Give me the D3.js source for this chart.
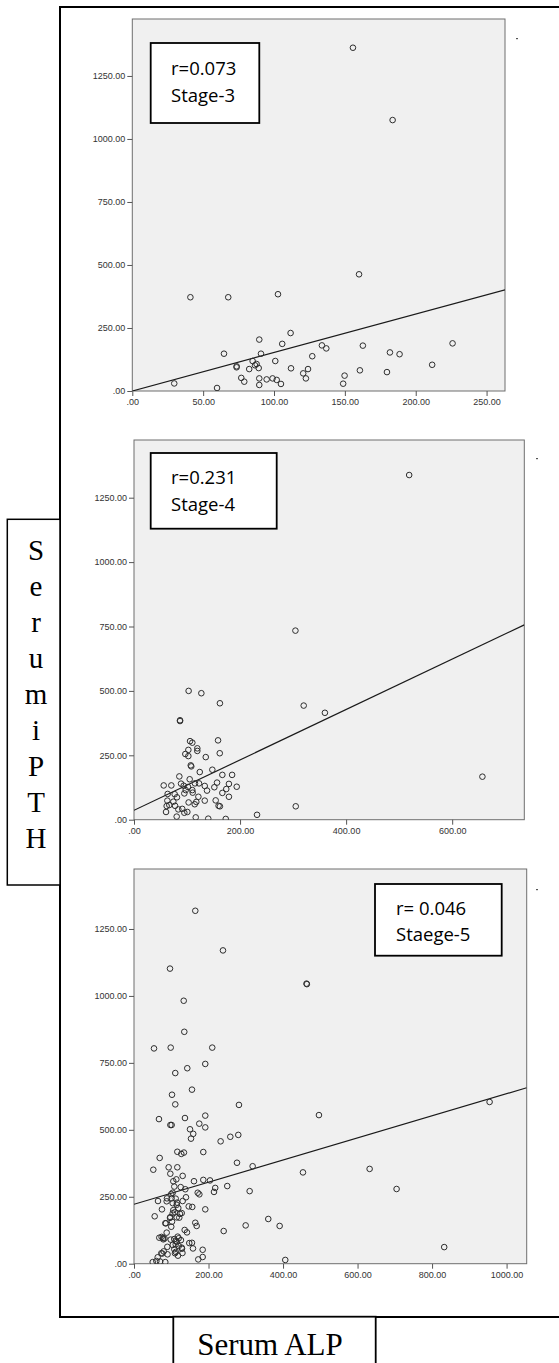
<!DOCTYPE html>
<html>
<head>
<meta charset="utf-8">
<script src="https://cdn.jsdelivr.net/npm/d3@7"></script>
<style>
	body { margin: 0; background: #fff; }
	.tick text { font-family: "Liberation Sans", Arial, sans-serif; font-size: 9px; fill: #333; }
	.tick line { stroke: #555; }
</style>
</head>
<body>
<div id="chart"></div>
<script>
/*global d3*/

// Stage 3: serum ALP vs serum iPTH
const stage3 = [
	[155.7,1362],[183.7,1075],[160,463],[41,372],[67.7,372],[102.8,384],[111.7,230],[89.6,204],
	[64.7,148],[90.8,148],[105.8,187],[133.8,181],[136.9,169],[162.7,180],[181.8,153],[188.6,146],
	[226,189],[127,138],[100.9,119],[84.9,119],[87.7,107],[86.6,102],[73.6,98],[73.6,94],[82.5,87],
	[89.2,91],[112,90],[124,87],[120.6,70],[122.5,50],[29.6,30],[76.9,52],[79,37],[89.6,50],
	[89.6,24],[94.8,46],[99,50],[101.9,44],[104.9,28],[59.8,12],[211.6,104],[149.8,61],[148.8,29],
	[160.6,82],[179.7,75]
];

// Stage 4
const stage4 = [
	[518.9,1338],[304.4,734],[103,500],[127,491],[162,452],[320,443],[360,415],[86.8,386],[86.8,383],
	[657,167],[305,52],[232,19],[105.7,305],[110,299],[158.5,308],[119.4,277],[119.4,267],[102.5,271],
	[96.8,255],[102.5,247],[161.7,258],[135.3,243],[107,211],[108,207],[124,185],[147.7,194],
	[166.6,174],[185,174],[85.5,168],[105,157],[56,133],[70.4,133],[88.7,140],[93.7,132],[115,141],
	[122.6,141],[133.4,131],[156.6,144],[179,139],[193.7,128],[101.9,127],[110,115],[97.5,115],
	[137.7,113],[151.5,126],[174,119],[63.5,100],[76.7,99],[94.9,102],[110.7,105],[121.4,89],
	[166.6,104],[179,89],[81,87],[62.9,74],[74.2,70],[103,67],[117.5,69],[133.4,74],[154,75],
	[159.5,54],[162,52],[61.6,53],[66.6,57],[77.4,54],[114.5,60],[83.6,40],[91,42],[60.4,30],
	[94.9,27],[100.6,30],[80.5,12],[116.4,9],[140,4],[173,3]
];

// Stage 5
const stage5 = [
	[164.5,1318],[238.8,1170],[96.6,1102],[463,1046],[464,1044],[133.4,982],[135,866],[53.7,804],
	[98.5,807],[210,807],[191.3,746],[143,730],[110.8,712],[155.6,650],[102,631],[110.8,595],
	[281.7,593],[496.4,555],[954.4,604],[67,540],[136.8,544],[191.3,553],[97.7,518],[101,518],
	[175.2,523],[191.3,509],[150.3,502],[159,485],[153,467],[258.5,474],[279.9,481],[232.5,457],
	[116.3,418],[134,415],[127,410],[186,417],[68.9,395],[51.8,351],[93,360],[116.3,360],[276.4,377],
	[318.4,364],[453.5,341],[632.4,354],[704.8,279],[97.5,336],[130.6,328],[113.6,315],[105.5,308],
	[161,308],[186,313],[204,311],[125.3,286],[108.2,288],[137.7,278],[171,265],[175.4,259],
	[214.7,268],[218,283],[250.3,290],[310.4,271],[100,260],[88.5,244],[111.9,243],[139.5,248],
	[64.4,234],[103.8,226],[115.4,228],[130.6,234],[146.8,214],[156.4,212],[75,203],[191.3,203],
	[118.9,208],[109.2,192],[128,189],[55.5,177],[97.5,174],[121.5,172],[84,151],[164.5,153],
	[168.2,141],[100,138],[299.7,143],[360.4,167],[390.9,141],[240.7,122],[136,126],[142.2,117],
	[87.7,116],[67.9,97],[78.6,91],[98.5,90],[117.3,101],[114.6,82],[148.4,77],[155.6,78],
	[158.3,57],[128.8,56],[108.2,54],[89.4,63],[79.7,46],[73.3,39],[110,39],[184.3,52],[184.3,25],
	[172.5,16],[63.6,24],[50.2,6],[84,6],[406,14],[832.6,62],[103.8,265],[101,244],[87.7,233],
	[114.6,220],[105.5,200],[103.8,188],[114.6,173],[96.6,171],[85.9,151],[102,157],[123.4,186],
	[78,96],[74,100],[82,94],[108,92],[112,86],[120,95],[126,88],[104,70],[112,72],[120,66],
	[128,60],[76,38],[90,35],[112,44],[118,30],[60,10],[70,8],[130,40]
];

const xMax = [263, 736, 1054];
const yMax = [1476, 1474, 1474];
const xTicks = [
	[0, 50, 100, 150, 200, 250],
	[0, 200, 400, 600],
	[0, 200, 400, 600, 800, 1000]
];
const yTicks = [0, 250, 500, 750, 1000, 1250];
const fitIntercept = [0, 36.5, 222];
const fitSlope = [1.525, 0.978, 0.4127];
const boxLines = [
	["r=0.073", "Stage-3"],
	["r=0.231", "Stage-4"],
	["r= 0.046", "Staege-5"]
];
const yLabel = "SerumiPTH";
const xLabel = "Serum ALP";

const W = 559, H = 1363;

let svg = d3.select("#chart")
	.append("svg")
	.attr("width", W)
	.attr("height", H);

// panel geometry (pixels)
let panels = [
	{ left: 132.3, right: 505, top: 19, bottom: 391,
	  box: { x: 150.7, y: 43, w: 108.6, h: 80, tx: 171, ty: [75, 102] }, dot: [516, 38] },
	{ left: 134, right: 524.3, top: 440, bottom: 819.7,
	  box: { x: 150.7, y: 453, w: 126, h: 75.7, tx: 171, ty: [484, 510.7] }, dot: [536, 458] },
	{ left: 134, right: 526.7, top: 869, bottom: 1263.7,
	  box: { x: 375, y: 884, w: 126.7, h: 71.7, tx: 396, ty: [915, 941] }, dot: [536, 889] }
];
let datasets = [stage3, stage4, stage5];

let fmt = function (v) {
	return v === 0 ? ".00" : d3.format(".2f")(v);
};

// outer frame
svg.append("rect")
	.attr("x", 60).attr("y", 7)
	.attr("width", 560).attr("height", 1310)
	.style("fill", "none")
	.style("stroke", "#000")
	.style("stroke-width", 2);

// clip for the cut-off bottom axis labels of the last panel
svg.append("clipPath").attr("id", "cutLabels")
	.append("rect").attr("x", 0).attr("y", 0).attr("width", W).attr("height", 1280);

panels.forEach(function (p, i) {
	let x = d3.scaleLinear().domain([0, xMax[i]]).range([p.left, p.right]);
	let y = d3.scaleLinear().domain([0, yMax[i]]).range([p.bottom, p.top]);

	let g = svg.append("g");

	g.append("rect")
		.attr("x", p.left).attr("y", p.top)
		.attr("width", p.right - p.left).attr("height", p.bottom - p.top)
		.style("fill", "#f0f0f0")
		.style("stroke", "#6e6e6e")
		.style("stroke-width", 1);

	let xa = g.append("g")
		.attr("transform", "translate(0," + p.bottom + ")")
		.call(d3.axisBottom(x).tickValues(xTicks[i]).tickFormat(fmt).tickSize(5).tickPadding(3));
	xa.select(".domain").remove();
	if (i === 2) xa.attr("clip-path", "url(#cutLabels)");

	g.append("g")
		.attr("transform", "translate(" + p.left + ",0)")
		.call(d3.axisLeft(y).tickValues(yTicks).tickFormat(fmt).tickSize(5).tickPadding(2))
		.select(".domain").remove();

	let clipId = "plot" + i;
	g.append("clipPath").attr("id", clipId)
		.append("rect")
		.attr("x", p.left).attr("y", p.top)
		.attr("width", p.right - p.left).attr("height", p.bottom - p.top);

	let inner = g.append("g").attr("clip-path", "url(#" + clipId + ")");

	// fit line
	let fit = [0, xMax[i]].map(function (v) {
		return [v, fitIntercept[i] + fitSlope[i] * v];
	});
	inner.append("path")
		.attr("d", d3.line().x(function (d) { return x(d[0]); }).y(function (d) { return y(d[1]); })(fit))
		.style("fill", "none")
		.style("stroke", "#1a1a1a")
		.style("stroke-width", 1.2);

	inner.selectAll("circle")
		.data(datasets[i])
		.enter()
		.append("circle")
		.attr("cx", function (d) { return x(d[0]); })
		.attr("cy", function (d) { return y(d[1]); })
		.attr("r", 2.8)
		.style("fill", "none")
		.style("stroke", "#2e2e2e")
		.style("stroke-width", 1);

	// r / stage box
	g.append("rect")
		.attr("x", p.box.x).attr("y", p.box.y)
		.attr("width", p.box.w).attr("height", p.box.h)
		.style("fill", "#fff")
		.style("stroke", "#000")
		.style("stroke-width", 1.8);

	boxLines[i].forEach(function (t, j) {
		g.append("text")
			.attr("x", p.box.tx)
			.attr("y", p.box.ty[j])
			.style("font-family", "'Open Sans', sans-serif")
			.style("font-size", "18.5px")
			.style("fill", "#000")
			.text(t);
	});

	// little stray mark at the top right
	g.append("rect")
		.attr("x", p.dot[0]).attr("y", p.dot[1])
		.attr("width", 2).attr("height", 1.2)
		.style("fill", "#555");
});

// y label box
svg.append("rect")
	.attr("x", 7.3).attr("y", 519.3)
	.attr("width", 52.7).attr("height", 365.7)
	.style("fill", "#fff")
	.style("stroke", "#000")
	.style("stroke-width", 1.5);

yLabel.split("").forEach(function (ch, i) {
	svg.append("text")
		.attr("x", 36)
		.attr("y", 560 + i * 36)
		.attr("text-anchor", "middle")
		.style("font-family", "'Liberation Serif', 'Times New Roman', serif")
		.style("font-size", "29px")
		.text(ch);
});

// x label box
svg.append("rect")
	.attr("x", 173.3).attr("y", 1316.7)
	.attr("width", 202.4).attr("height", 60)
	.style("fill", "#fff")
	.style("stroke", "#000")
	.style("stroke-width", 1.8);

svg.append("text")
	.attr("x", 270)
	.attr("y", 1355)
	.attr("text-anchor", "middle")
	.style("font-family", "'Liberation Serif', 'Times New Roman', serif")
	.style("font-size", "31px")
	.text(xLabel);
</script>
</body>
</html>
